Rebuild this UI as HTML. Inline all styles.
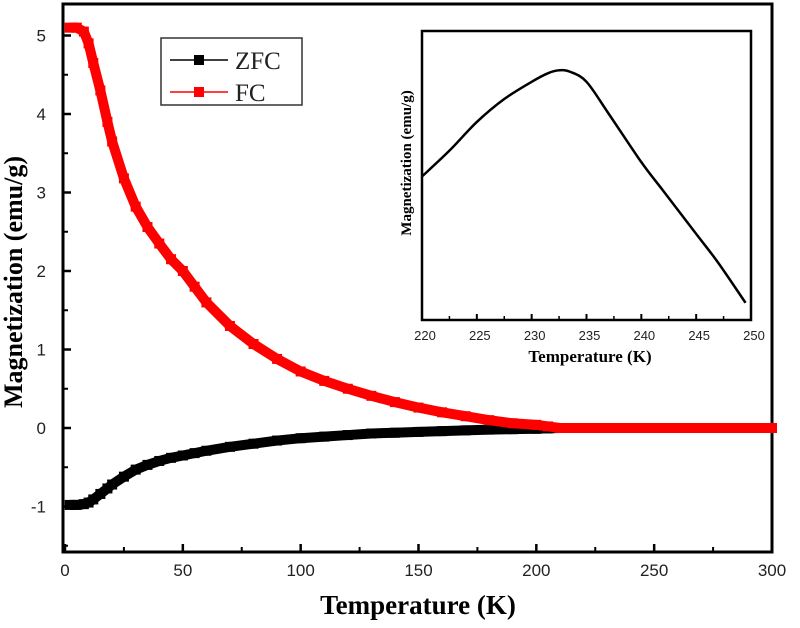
<!DOCTYPE html>
<html><head><meta charset="utf-8"><style>
body{margin:0;background:#fff}
svg{display:block;font-family:"Liberation Sans",sans-serif}
.serif{font-family:"Liberation Serif",serif;font-weight:bold}
</style></head><body>
<svg id="c" width="800" height="628" viewBox="0 0 800 628"></svg>
<script>
const temps=[2,5,8,10,12,15,18,20,25,30,35,40,45,50,55,60,70,80,90,100,110,120,130,140,150,160,170,180,190,200,205,210,220,240,260,280,300];
const fcVals=[5.1,5.1,5.05,4.9,4.65,4.3,3.9,3.65,3.18,2.82,2.56,2.35,2.15,2.0,1.8,1.6,1.3,1.07,0.88,0.72,0.6,0.5,0.41,0.33,0.26,0.2,0.15,0.1,0.06,0.04,0.02,0.0,0.0,0.0,0.0,0.0,0.0];
const zfcVals=[-0.98,-0.98,-0.97,-0.95,-0.91,-0.84,-0.77,-0.72,-0.62,-0.53,-0.47,-0.42,-0.38,-0.35,-0.32,-0.29,-0.24,-0.2,-0.16,-0.13,-0.11,-0.09,-0.07,-0.06,-0.05,-0.04,-0.03,-0.02,-0.015,-0.01,-0.005,0,0,0,0,0,0];
const xTicks=[0,50,100,150,200,250,300];
const yTicks=[-1,0,1,2,3,4,5];
const insetT=[220,222.5,225,227.5,230,231.5,232.5,233.5,235,237,240,242,245,247,249.5];
const insetVals=[0.50,0.59,0.69,0.77,0.83,0.86,0.87,0.865,0.83,0.72,0.55,0.45,0.30,0.20,0.06];
const insetTicks=[220,225,230,235,240,245,250];

const NS="http://www.w3.org/2000/svg",svg=document.getElementById('c');
function mk(t,a,p){const e=document.createElementNS(NS,t);for(const k in a)e.setAttribute(k,a[k]);(p||svg).appendChild(e);return e;}
const X=t=>65+(t)*(772-65)/300;
const Y=v=>428-v*78.5;
const fr=mk('rect',{x:63,y:4,width:709,height:548,fill:'none',stroke:'#000','stroke-width':3});

xTicks.forEach((t,i)=>{
 mk('line',{x1:X(t),x2:X(t),y1:552,y2:544,stroke:'#000','stroke-width':2.5});
 if(i<xTicks.length-1)mk('line',{x1:X(t+25),x2:X(t+25),y1:552,y2:547,stroke:'#000','stroke-width':2});
 const l=mk('text',{x:X(t),y:576,'text-anchor':'middle','font-size':17,fill:'#222'});l.textContent=t;
 
});
yTicks.forEach(v=>{
 mk('line',{x1:63,x2:71,y1:Y(v),y2:Y(v),stroke:'#000','stroke-width':2.5});
 mk('line',{x1:63,x2:68,y1:Y(v+0.5),y2:Y(v+0.5),stroke:'#000','stroke-width':2});
 const l=mk('text',{x:46,y:Y(v)+6,'text-anchor':'end','font-size':17,fill:'#222'});l.textContent=v;
 
});
mk('line',{x1:63,x2:68,y1:Y(-1.5),y2:Y(-1.5),stroke:'#000','stroke-width':2});
let t=mk('text',{x:418,y:614,'text-anchor':'middle','font-size':27,class:'serif'});t.textContent='Temperature (K)';

t=mk('text',{x:0,y:0,'text-anchor':'middle','font-size':26,class:'serif',transform:'translate(22,282) rotate(-90)'});t.textContent='Magnetization (emu/g)';

function series(vals,col,name){
 const g=mk('g',{});
 mk('polyline',{points:temps.map((t,i)=>X(t)+','+Y(vals[i])).join(' '),fill:'none',stroke:col,'stroke-width':10,'stroke-linejoin':'round'},g);
 temps.forEach((t,i)=>{const r=mk('rect',{x:X(t)-5,y:Y(vals[i])-5,width:10,height:10,fill:col},g);
 });
}
series(zfcVals,'#000','zfc-series');
series(fcVals,'#f00','fc-series');
const lg=mk('g',{});
mk('rect',{x:161,y:38,width:141,height:67,fill:'#fff',stroke:'#333','stroke-width':1.5},lg);
[['ZFC','#000',60],['FC','#f00',92]].forEach(([n,c,y])=>{
 mk('line',{x1:170,x2:228,y1:y,y2:y,stroke:c,'stroke-width':1.5},lg);
 mk('rect',{x:194,y:y-5,width:10,height:10,fill:c},lg);
 const tx=mk('text',{x:235,y:y+9,'font-size':25,'font-family':'Liberation Serif, serif',fill:'#222'},lg);tx.textContent=n;
 
});
const IX=t=>422+(t-220)*(751-422)/30, IY=v=>320-v*287;
const ig=mk('g',{});
mk('rect',{x:422,y:31,width:329,height:289,fill:'#fff',stroke:'#000','stroke-width':2.5},ig);
insetTicks.forEach((t,i)=>{
 mk('line',{x1:IX(t),x2:IX(t),y1:320,y2:314,stroke:'#000','stroke-width':2},ig);
 if(i<insetTicks.length-1)mk('line',{x1:IX(t+2.5),x2:IX(t+2.5),y1:320,y2:316,stroke:'#000','stroke-width':1.5},ig);
 const l=mk('text',{x:IX(t)+3,y:340,'text-anchor':'middle','font-size':13,fill:'#222'},ig);l.textContent=t;
 
});
t=mk('text',{x:590,y:362,'text-anchor':'middle','font-size':17,class:'serif'},ig);t.textContent='Temperature (K)';

t=mk('text',{x:0,y:0,'text-anchor':'middle','font-size':15,class:'serif',transform:'translate(411,163) rotate(-90)'},ig);t.textContent='Magnetization (emu/g)';

// smooth path (Catmull-Rom)
const pts=insetT.map((t,i)=>[IX(t),IY(insetVals[i])]);
let d='M'+pts[0][0]+','+pts[0][1];
for(let i=0;i<pts.length-1;i++){
 const p0=pts[Math.max(0,i-1)],p1=pts[i],p2=pts[i+1],p3=pts[Math.min(pts.length-1,i+2)];
 d+=' C'+(p1[0]+(p2[0]-p0[0])/6)+','+(p1[1]+(p2[1]-p0[1])/6)+' '+(p2[0]-(p3[0]-p1[0])/6)+','+(p2[1]-(p3[1]-p1[1])/6)+' '+p2[0]+','+p2[1];
}
const il=mk('path',{d:d,fill:'none',stroke:'#000','stroke-width':2.5,'stroke-linejoin':'round'},ig);

</script>
</body></html>
